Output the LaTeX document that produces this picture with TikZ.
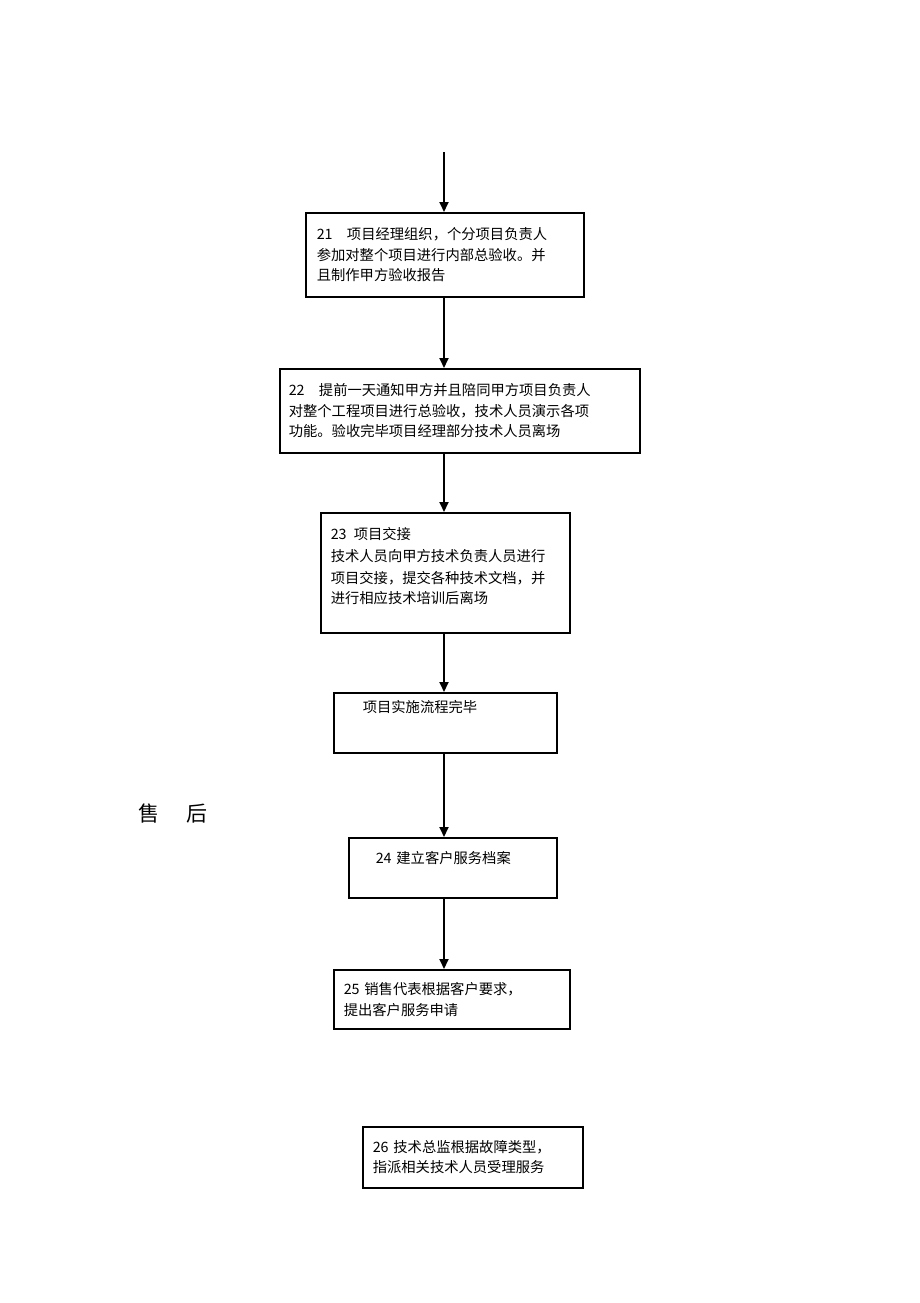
\documentclass[tikz,border=0pt]{standalone}
\usepackage{fontspec}
\setmainfont{Noto Sans CJK SC}
\usetikzlibrary{arrows.meta, positioning}

\begin{document}
\begin{tikzpicture}[
    x=1pt, y=-1pt,
    thick,
    block/.style={draw, rectangle, line width=1.6pt, anchor=north west, inner xsep=10pt, inner ysep=0pt, align=left, font=\fontsize{14.3}{20.5}\selectfont},
    flow/.style={-{Triangle[length=10pt, width=9pt]}, line width=1.8pt}
]
    \useasboundingbox (0,0) rectangle (920,1303);

    % Incoming line
    \coordinate (in) at (444,152);

    % Internal acceptance
    \node[block, text width=256pt, minimum width=278pt, minimum height=84pt, inner xsep=11pt] (s21) at (305,212)
        {21\quad 项目经理组织，个分项目负责人\\参加对整个项目进行内部总验收。并\\且制作甲方验收报告};

    % Acceptance with client
    \node[block, text width=342pt, minimum width=360pt, minimum height=84pt, inner xsep=9pt] (s22) at (279,368)
        {22\quad 提前一天通知甲方并且陪同甲方项目负责人\\对整个工程项目进行总验收，技术人员演示各项\\功能。验收完毕项目经理部分技术人员离场};

    % Handover
    \node[block, text width=229pt, minimum width=249pt, minimum height=120pt] (s23) at (320,512)
        {23\enspace 项目交接\\[2pt]技术人员向甲方技术负责人员进行\\[1pt]项目交接，提交各种技术文档，并\\进行相应技术培训后离场\\[-6pt]\mbox{}};

    % End of implementation
    \node[block, text width=203pt, minimum width=223pt, minimum height=60pt] (done) at (333,692)
        {\hspace*{19pt}项目实施流程完毕\\[13pt]\mbox{}};

    % After-sales label
    \node[anchor=west, inner sep=0pt, font=\fontsize{21}{21}\selectfont] (after) at (138,814) {售\hspace{27pt}后};

    % Service file
    \node[block, text width=188pt, minimum width=208pt, minimum height=60pt] (s24) at (348,837)
        {\hspace*{17pt}24 建立客户服务档案\\\mbox{}};

    % Service request
    \node[block, text width=216pt, minimum width=236pt, minimum height=59pt] (s25) at (333,969)
        {25 销售代表根据客户要求，\\提出客户服务申请};

    % Dispatch
    \node[block, text width=200pt, minimum width=220pt, minimum height=61pt] (s26) at (362,1126)
        {26 技术总监根据故障类型，\\指派相关技术人员受理服务};

    % Flow lines
    \draw[flow] (in) -- (s21.north -| in);
    \draw[flow] (s21.south -| in) -- (s22.north -| in);
    \draw[flow] (s22.south -| in) -- (s23.north -| in);
    \draw[flow] (s23.south -| in) -- (done.north -| in);
    \draw[flow] (done.south -| in) -- (s24.north -| in);
    \draw[flow] (s24.south -| in) -- (s25.north -| in);

\end{tikzpicture}
\end{document}
